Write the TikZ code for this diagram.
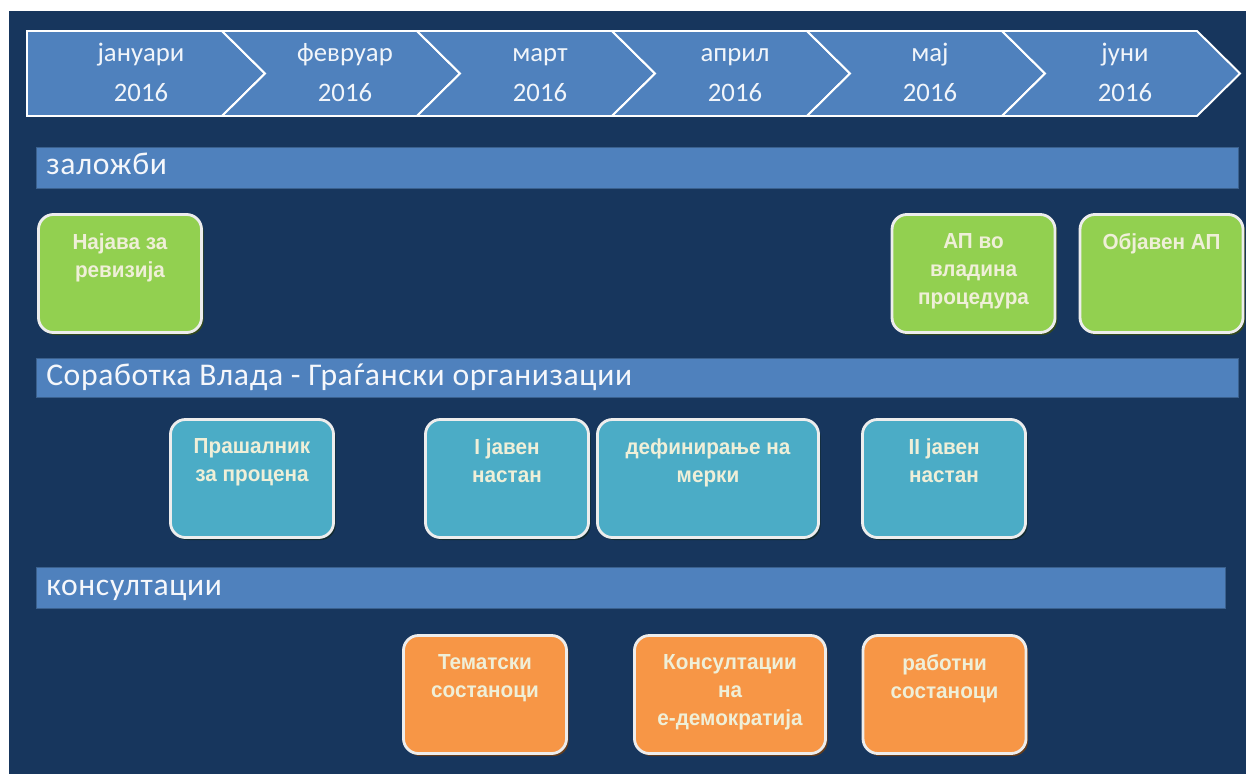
\documentclass[tikz,border=0pt]{standalone}
\usepackage{fontspec}
\setmainfont{Carlito}
\newfontfamily\bandfont{Carlito}[LetterSpace=2]
\newfontfamily\cardfont{Liberation Sans}[FakeStretch=0.95]
\usetikzlibrary{shadows}
\definecolor{navy}{HTML}{17365D}
\definecolor{steel}{HTML}{4F81BD}
\definecolor{leaf}{HTML}{92D050}
\definecolor{aqua}{HTML}{4BACC6}
\definecolor{tang}{HTML}{F79646}
\definecolor{cream}{HTML}{EFEFD8}

\begin{document}
\begin{tikzpicture}[x=0.025cm, y=-0.025cm]
      \tikzset{chev/.style={draw=white, line width=1.4pt, fill=steel, line join=miter},
               month/.style={anchor=base, inner sep=0pt, text=white!92!steel, font=\fontsize{19}{19}\selectfont},
               band/.style={fill=steel, draw=steel!75!black, line width=0.6pt},
               bandtext/.style={anchor=base west, inner sep=0pt, text=white!94!steel, font=\bandfont\fontsize{22.5}{22.5}\selectfont},
               card/.style={draw=white!93!black, line width=2pt, rounded corners=0.375cm, minimum width=4.075cm, minimum height=2.95cm, inner sep=0pt},
               leafcard/.style={card, fill=leaf, drop shadow={shadow xshift=1.5pt, shadow yshift=-1.8pt, fill=leaf!35!black, opacity=1}},
               aquacard/.style={card, fill=aqua, drop shadow={shadow xshift=1.5pt, shadow yshift=-1.8pt, fill=aqua!25!black, opacity=1}},
               tangcard/.style={card, fill=tang, drop shadow={shadow xshift=1.5pt, shadow yshift=-1.8pt, fill=tang!40!black, opacity=1}},
               cardtext/.style={anchor=north, align=center, inner sep=0pt, text=cream, font=\cardfont\bfseries\fontsize{15.5}{20}\selectfont}}
%% Background
      \useasboundingbox (0,0) rectangle (1246,774);
      \fill[navy] (9,11) rectangle (1246,774);
%% Months
	%first arrow has a flat end
      \draw[chev] (27,31) -- (222,31) -- (265,73.5) -- (222,116) -- (27,116) -- cycle;
      \foreach \xa in {222,417,612,807,1002}
            \draw[chev] (\xa,31) -- ++(195,0) -- ++(43,42.5) -- ++(-43,42.5) -- ++(-195,0) -- ++(43,-42.5) -- cycle;
      \foreach \m/\xm [count=\i] in {јануари/141, февруар/345, март/540, април/735, мај/930, јуни/1125} {
            \node[month] (mon\i) at (\xm,62) {\m};
            \node[month] (year\i) at (\xm,102) {2016};
      }
%% Bands
      \draw[band] (36,147) rectangle (1238,188);
      \node[bandtext] (zalozbi) at (46,175) {заложби};
      \draw[band] (36,358) rectangle (1238,397);
      \node[bandtext] (sorabotka) at (46,385) {Соработка Влада - Граѓански организации};
      \draw[band] (36,567) rectangle (1225,608);
      \node[bandtext] (konsultacii) at (46,595) {консултации};
%% Cards
	%zalozbi
      \node[leafcard] (najava) at (120,273.5) {};
      \node[leafcard] (apvlada) at (973.5,273.5) {};
      \node[leafcard] (objaven) at (1161.5,273.5) {};
	%sorabotka
      \node[aquacard] (prasalnik) at (252,478.5) {};
      \node[aquacard] (javen1) at (507,478.5) {};
      \node[aquacard, minimum width=5.525cm] (merki) at (708,478.5) {};
      \node[aquacard] (javen2) at (944,478.5) {};
	%konsultacii
      \node[tangcard] (tematski) at (485,694.5) {};
      \node[tangcard, minimum width=4.775cm] (edemo) at (730,694.5) {};
      \node[tangcard] (rabotni) at (944.5,694.5) {};
%Card texts
      \node[cardtext] at ([yshift=-0.5cm]najava.north) {Најава за\\ревизија};
      \node[cardtext] at ([yshift=-0.5cm]apvlada.north) {АП во\\владина\\процедура};
      \node[cardtext] at ([yshift=-0.5cm]objaven.north) {Објавен АП};
      \node[cardtext] at ([yshift=-0.5cm]prasalnik.north) {Прашалник\\за процена};
      \node[cardtext] at ([yshift=-0.5cm]javen1.north) {I јавен\\настан};
      \node[cardtext] at ([yshift=-0.5cm]merki.north) {дефинирање на\\мерки};
      \node[cardtext] at ([yshift=-0.5cm]javen2.north) {II јавен\\настан};
      \node[cardtext] at ([yshift=-0.5cm]tematski.north) {Тематски\\состаноци};
      \node[cardtext] at ([yshift=-0.5cm]edemo.north) {Консултации\\на\\е-демократија};
      \node[cardtext] at ([yshift=-0.5cm]rabotni.north) {работни\\состаноци};
\end{tikzpicture}
\end{document}
